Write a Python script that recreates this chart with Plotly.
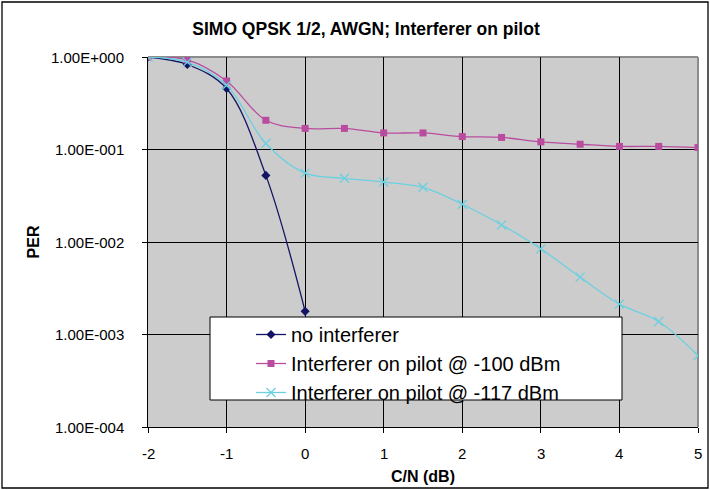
import math
import plotly.graph_objects as go

x_vals = [-2, -1.5, -1, -0.5, 0, 0.5, 1, 1.5, 2, 2.5, 3, 3.5, 4, 4.5, 5]

no_interferer_x = [-2, -1.5, -1, -0.5, 0]
no_interferer = [1.0, 0.83, 0.456, 0.0525, 0.00178]

interf_100 = [1.0, 0.93, 0.55, 0.207, 0.169, 0.169, 0.151, 0.151, 0.138, 0.135,
              0.121, 0.114, 0.108, 0.108, 0.105]

interf_117 = [1.0, 0.88, 0.495, 0.116, 0.0555, 0.0488, 0.0445, 0.039, 0.0256, 0.0153,
              0.00843, 0.00417, 0.00213, 0.00138, 0.00059]

names = ["no interferer", "Interferer on pilot @ -100 dBm", "Interferer on pilot @ -117 dBm"]

x_tickvals = [-2, -1, 0, 1, 2, 3, 4, 5]
x_ticktext = ["-2", "-1", "0", "1", "2", "3", "4", "5"]
y_tickvals = [1, 0.1, 0.01, 0.001, 0.0001]
y_ticktext = ["1.00E+000", "1.00E-001", "1.00E-002", "1.00E-003", "1.00E-004"]

W, H = 710, 490
L, R, T, B = 148, 12, 57, 63
pw, ph = W - L - R, H - T - B

def px_x(p):
    return (p - L) / pw

def px_y(p):
    return (H - B - p) / ph

FONT = "Liberation Sans"
navy = "#141464"
mag = "#BA4CA0"
cyan = "#6DD0E0"

fig = go.Figure()
fig.add_trace(go.Scatter(
    x=no_interferer_x, y=no_interferer, name=names[0], mode="lines+markers",
    line=dict(color=navy, width=1.3, shape="spline"),
    marker=dict(symbol="diamond", size=7, color=navy)))
fig.add_trace(go.Scatter(
    x=x_vals, y=interf_100, name=names[1], mode="lines+markers",
    line=dict(color=mag, width=1.3, shape="spline"),
    marker=dict(symbol="square", size=7, color=mag)))
fig.add_trace(go.Scatter(
    x=x_vals, y=interf_117, name=names[2], mode="lines+markers",
    line=dict(color=cyan, width=1.3, shape="spline"),
    marker=dict(symbol="x-thin", size=9, color=cyan, line=dict(color=cyan, width=1.3))))

shapes = [
    dict(type="rect", xref="paper", yref="paper",
         x0=px_x(2), x1=px_x(708), y0=px_y(488), y1=px_y(2),
         line=dict(color="black", width=1.3), layer="below"),
    dict(type="line", xref="paper", yref="paper", x0=0, x1=1, y0=1, y1=1,
         line=dict(color="#8C8C8C", width=2), layer="between"),
    dict(type="line", xref="paper", yref="paper", x0=1, x1=1, y0=0, y1=1,
         line=dict(color="#8C8C8C", width=2), layer="between"),
    dict(type="rect", xref="paper", yref="paper",
         x0=px_x(210), x1=px_x(622), y0=px_y(400), y1=px_y(317),
         line=dict(color="black", width=1), fillcolor="white", layer="above"),
]

# tick labels placed as text annotations (so that their offset can be set exactly)
annotations = []
for v, t in zip(y_tickvals, y_ticktext):
    annotations.append(dict(text=t, xref="paper", x=px_x(126), xanchor="right",
                            yref="y", y=math.log10(v), yanchor="middle",
                            showarrow=False, font=dict(size=15, family=FONT, color="black")))
for v, t in zip(x_tickvals, x_ticktext):
    annotations.append(dict(text=t, xref="x", x=v, xanchor="center",
                            yref="paper", y=px_y(453), yanchor="middle",
                            showarrow=False, font=dict(size=15, family=FONT, color="black")))

fig.update_layout(
    width=W, height=H,
    margin=dict(l=L, r=R, t=T, b=B, pad=0, autoexpand=False),
    paper_bgcolor="white", plot_bgcolor="#CCCCCC",
    font=dict(family=FONT, color="black"),
    title=dict(text="<b>SIMO QPSK 1/2, AWGN; Interferer on pilot</b>",
               x=px_x(366), xref="paper", xanchor="center",
               y=1 - 29 / H, yref="container", yanchor="middle",
               font=dict(size=17.5, family=FONT, color="black")),
    showlegend=True,
    legend=dict(x=px_x(251), y=px_y(315), xanchor="left", yanchor="top",
                bgcolor="rgba(0,0,0,0)", borderwidth=0,
                font=dict(size=20, family=FONT, color="black"),
                tracegroupgap=0, itemwidth=30),
    shapes=shapes,
    annotations=annotations,
    xaxis=dict(range=[-2, 5], tickvals=x_tickvals, showticklabels=False,
               showgrid=True, gridcolor="black", automargin=False,
               gridwidth=1, zeroline=False, showline=True, linecolor="black", linewidth=1,
               ticks="outside", ticklen=5, tickcolor="black", tickwidth=1,
               title=dict(text="<b>C/N (dB)</b>", font=dict(size=16, family=FONT), standoff=38)),
    yaxis=dict(type="log", range=[-4, 0], tickvals=y_tickvals, showticklabels=False,
               automargin=False,
               showgrid=True, gridcolor="black", gridwidth=1, zeroline=False,
               showline=True, linecolor="black", linewidth=1,
               ticks="outside", ticklen=5, tickcolor="black", tickwidth=1,
               title=dict(text="<b>PER</b>", font=dict(size=16, family=FONT), standoff=98)),
)

fig.write_html("out.html")
